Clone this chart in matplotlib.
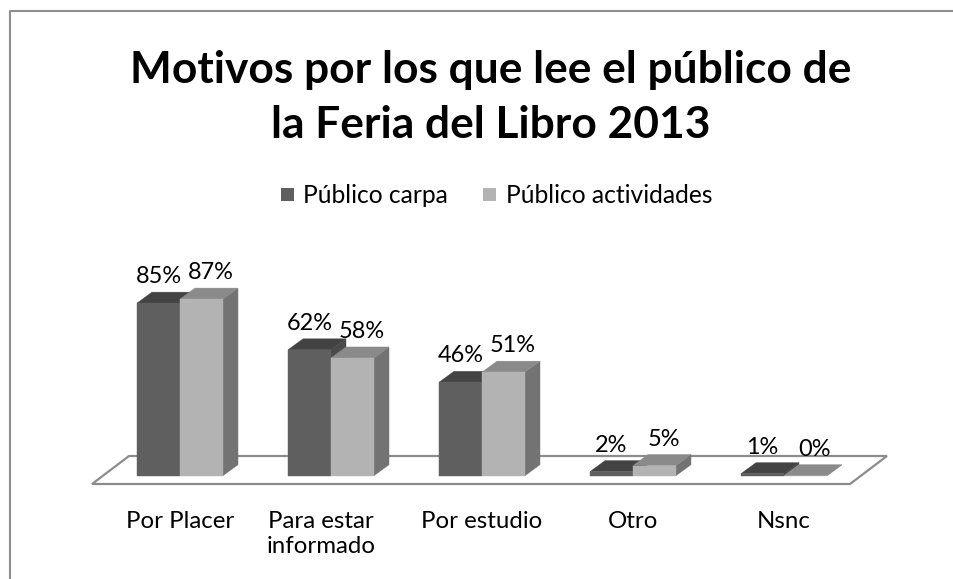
import matplotlib
matplotlib.use("Agg")
import matplotlib.pyplot as plt
from matplotlib.patches import Polygon, Rectangle
from matplotlib.lines import Line2D

# ---------------- data ----------------
title_lines = ["Motivos por los que lee el público de", "la Feria del Libro 2013"]
categories = ["Por Placer", "Para estar\ninformado", "Por estudio", "Otro", "Nsnc"]
series_names = ["Público carpa", "Público actividades"]
publico_carpa = [85, 62, 46, 2, 1]
publico_actividades = [87, 58, 51, 5, 0]

# ---------------- layout ----------------
plt.rcParams['font.family'] = ['Lato', 'DejaVu Sans']
W, H = 954, 579
fig = plt.figure(figsize=(W / 100, H / 100), dpi=100)
fig.patch.set_facecolor('white')

cat0_px = 180.0      # pixel x of first category centre
px_per_cat = 151.0
base_px = 475.7      # pixel y (from top) of bar bottoms
px_per_pct = 2.03

ax = fig.add_axes([0, 0, 1, 1])
ax.set_xlim(-cat0_px / px_per_cat, (W - cat0_px) / px_per_cat)
ax.set_ylim(-(H - base_px) / px_per_pct, base_px / px_per_pct)
ax.axis('off')

def px_x(p):
    return p / px_per_cat

def px_y(p):
    return p / px_per_pct

dx, dy = px_x(15), px_y(11)
bar_w = px_x(43)

colors = [
    dict(front='#5f5f5f', top='#434343', side='#4b4b4b'),
    dict(front='#b3b3b3', top='#8a8a8a', side='#737373'),
]
edge = '#8c8c8c'

# floor
fl_front_y, fl_back_y = px_y(-8.3), px_y(19.7)
fl_l, fl_r = px_x(-88), px_x(670)
fl_shift = px_x(37)
floor = Polygon([(fl_l, fl_front_y), (fl_r, fl_front_y),
                 (fl_r + fl_shift, fl_back_y), (fl_l + fl_shift, fl_back_y)],
                closed=True, fc='white', ec=edge, lw=1.6, zorder=1)
ax.add_patch(floor)

series = [publico_carpa, publico_actividades]
label_dx_px = [0, 9]
z = 2
val_texts = []
for i in range(len(categories)):
    for s, vals in enumerate(series):
        v = vals[i]
        c = colors[s]
        x0 = i - bar_w + s * bar_w
        x1 = x0 + bar_w
        side = Polygon([(x1, 0), (x1 + dx, dy), (x1 + dx, v + dy), (x1, v)],
                       closed=True, fc=c['side'], ec=c['side'], lw=0.3, zorder=z)
        top = Polygon([(x0, v), (x1, v), (x1 + dx, v + dy), (x0 + dx, v + dy)],
                      closed=True, fc=c['top'], ec=c['top'], lw=0.3, zorder=z)
        front = Rectangle((x0, 0), bar_w, v, fc=c['front'], ec=c['front'],
                          lw=0.3, zorder=z)
        for p in (side, top, front):
            ax.add_patch(p)
        z += 1
        vt = ax.annotate(f"{v}%", xy=((x0 + x1) / 2, v), xytext=(label_dx_px[s], 20),
                         textcoords='offset pixels', ha='center', va='baseline',
                         fontsize=15, color='black', zorder=50)
        val_texts.append(vt)

# category labels
cat_texts = []
for i, lab in enumerate(categories):
    lines = lab.split('\n')
    shift = -10 if len(lines) > 1 else 0
    for k, line in enumerate(lines):
        t = ax.annotate(line, xy=(i, 0), xytext=(shift, -(52 + 25 * k)),
                        textcoords='offset pixels', ha='center', va='baseline',
                        fontsize=15, color='black')
        cat_texts.append(t)

# title
t1 = fig.text(491 / W, 1 - 83 / H, title_lines[0], ha='center', va='baseline',
              fontweight='bold', fontsize=30, color='black')
t2 = fig.text(491 / W, 1 - 138 / H, title_lines[1], ha='center', va='baseline',
              fontweight='bold', fontsize=30, color='black')

# legend
leg_sq_x = [281, 483]
leg_tx_x = [302.7, 505.7]
leg_texts = []
for s, name in enumerate(series_names):
    fig.add_artist(Rectangle((leg_sq_x[s] / W, 1 - 201 / H), 13 / W, 13 / H,
                             transform=fig.transFigure, fc=colors[s]['front'],
                             ec='none'))
    lt = fig.text(leg_tx_x[s] / W, 1 - 203.3 / H, name, ha='left', va='baseline',
                  fontsize=15, color='black')
    leg_texts.append(lt)

# frame
fig.add_artist(Line2D([10 / W, 10 / W, 1], [0, 1 - 11 / H, 1 - 11 / H],
                      transform=fig.transFigure, color='#8f8f8f', lw=1.5))

# fit font sizes to reference widths
r = fig.canvas.get_renderer()

def scale_for(artist, target):
    w = artist.get_window_extent(r).width
    return artist.get_fontsize() * target / w

fs_title = scale_for(t1, 720)
t1.set_fontsize(fs_title)
t2.set_fontsize(fs_title)
fs_leg = scale_for(leg_texts[0], 145)
for lt in leg_texts:
    lt.set_fontsize(fs_leg)
fs_cat = scale_for(cat_texts[1], 106)
for t in cat_texts:
    t.set_fontsize(fs_cat)
fs_val = scale_for(val_texts[0], 46)
for t in val_texts:
    t.set_fontsize(fs_val)

fig.savefig('out.png', dpi=100, facecolor='white')
